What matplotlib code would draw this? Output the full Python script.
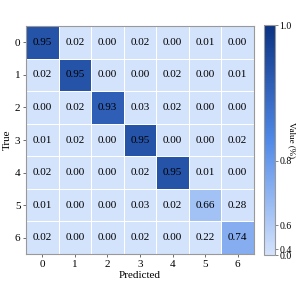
import matplotlib
matplotlib.use("Agg")
import matplotlib.pyplot as plt
import numpy as np
from matplotlib.colors import LinearSegmentedColormap, PowerNorm

plt.rcParams['font.family'] = ['Liberation Serif', 'DejaVu Serif']

labels = ['0', '1', '2', '3', '4', '5', '6']
row0 = [0.95, 0.02, 0.00, 0.02, 0.00, 0.01, 0.00]
row1 = [0.02, 0.95, 0.00, 0.00, 0.02, 0.00, 0.01]
row2 = [0.00, 0.02, 0.93, 0.03, 0.02, 0.00, 0.00]
row3 = [0.01, 0.02, 0.00, 0.95, 0.00, 0.00, 0.02]
row4 = [0.02, 0.00, 0.00, 0.02, 0.95, 0.01, 0.00]
row5 = [0.01, 0.00, 0.00, 0.03, 0.02, 0.66, 0.28]
row6 = [0.02, 0.00, 0.00, 0.02, 0.00, 0.22, 0.74]
cbar_ticks = [0.0, 0.4, 0.6, 0.8, 1.0]

cm = np.array([row0, row1, row2, row3, row4, row5, row6])

cmap = LinearSegmentedColormap.from_list('custom_blue', ['#d4e3fc', '#5089e8', '#0c3383'])
norm = PowerNorm(gamma=4, vmin=0, vmax=1)

fig = plt.figure(figsize=(2.99, 2.99), dpi=100)
ax = fig.add_axes([0.087, 0.1505, 0.7625, 0.7625])
cax = fig.add_axes([0.883, 0.147, 0.037, 0.769])

n = len(labels)
mesh = ax.pcolormesh(np.arange(n + 1) - 0.5, np.arange(n + 1) - 0.5, cm,
                     cmap=cmap, norm=norm, edgecolors='white', linewidth=0.6)
ax.set_xlim(-0.5, n - 0.5)
ax.set_ylim(n - 0.5, -0.5)

for i in range(n):
    for j in range(n):
        ax.text(j, i, f"{cm[i, j]:.2f}", ha='center', va='center', fontsize=8, color='black')

ax.set_xticks(range(n))
ax.set_yticks(range(n))
ax.set_xticklabels(labels, fontsize=8)
ax.set_yticklabels(labels, fontsize=8)
ax.tick_params(axis='both', length=2.5, width=0.6, color='#555555', pad=1.5)
ax.set_xlabel('Predicted', fontsize=8, labelpad=2)
ax.set_ylabel('True', fontsize=8, labelpad=2)
for s in ax.spines.values():
    s.set_color('#999999')
    s.set_linewidth(0.8)

cb = fig.colorbar(mesh, cax=cax)
cb.set_ticks(cbar_ticks)
cb.set_ticklabels([f"{t:.1f}" for t in cbar_ticks])
cb.ax.tick_params(labelsize=7, length=2, width=0.5, pad=1, color='#555555')
cb.outline.set_edgecolor('#999999')
cb.outline.set_linewidth(0.8)
cb.set_label('Value (%)', rotation=270, fontsize=6.5, labelpad=3)

fig.savefig('out.png', dpi=100)
